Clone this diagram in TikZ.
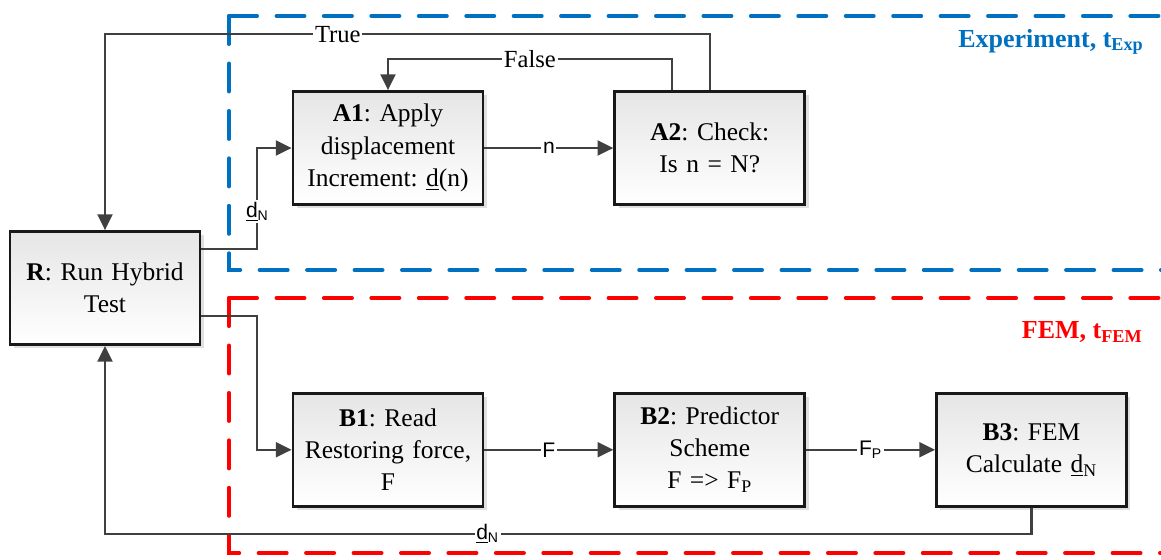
\documentclass[tikz,border=0pt]{standalone}
\usepackage{fontspec}
\setmainfont{Liberation Serif}
\setsansfont{Liberation Sans}
\usetikzlibrary{positioning,arrows.meta,shadows,calc}

\definecolor{lineGray}{HTML}{404040}
\definecolor{expBlue}{HTML}{0070C0}
\definecolor{femRed}{HTML}{FF0000}

\tikzstyle{block} = [rectangle, draw=black!90, line width=1.6pt, top color=black!10, bottom color=white,
    text width=3.6cm, align=center, minimum width=3.8cm, minimum height=2.26cm, inner sep=2pt,
    font=\fontsize{14.5}{18.3}\selectfont\frenchspacing,
    drop shadow={shadow xshift=2.2pt, shadow yshift=-2.2pt, fill=black!12, opacity=1}]
\tikzstyle{line} = [draw, line width=1.25pt, color=lineGray, -{Triangle[length=9pt, width=8.5pt]}]
\tikzstyle{lbl} = [fill=white, inner sep=1pt, text=black, font=\sffamily\fontsize{12}{14}\selectfont]
\tikzstyle{tlbl} = [fill=white, inner sep=1pt, text=black, font=\fontsize{14}{16}\selectfont]
\tikzstyle{region} = [line width=2.2pt, line cap=round, dash pattern=on 16pt off 11pt]
\tikzstyle{title} = [anchor=east, inner sep=0pt, font=\bfseries\fontsize{14.8}{17}\selectfont]

\begin{document}
\begin{tikzpicture}[x=0.02cm, y=-0.02cm, node distance=2.58cm]
	\useasboundingbox (0,0) rectangle (1161,559);

	% Regions
	\draw [region, expBlue] (229,16) -- (1175,16);
	\draw [region, expBlue] (229,16) -- (229,270) -- (1175,270);
	\draw [region, femRed] (229,298) -- (1175,298);
	\draw [region, femRed] (229,298) -- (229,553) -- (1175,553);
	\node [title, text=expBlue] (Exp) at (1144,42) {Experiment, t\textsubscript{Exp}};
	\node [title, text=femRed] (FEM) at (1143,332) {FEM, t\textsubscript{FEM}};

	% Nodes
	\node [block] (Run) at (105,288) {\textbf{R}: Run Hybrid\\ Test};
	\node [block] (Apply) at (388,148) {\textbf{A1}: Apply\\ displacement\\ Increment: \underline{d}(n)};
	\node [block, right=of Apply] (Check) {\textbf{A2}: Check:\\ Is n = N?};
	\node [block, below=3.72cm of Apply] (Read) {\textbf{B1}: Read\\ Restoring force,\\ F};
	\node [block, right=of Read] (Predict) {\textbf{B2}: Predictor\\ Scheme\\ F => F\textsubscript{P}};
	\node [block, right=of Predict] (Calc) {\textbf{B3}: FEM\\ Calculate \underline{d}\textsubscript{N}};

	% Arrows
	\path [line] ($(Run.north east)+(0,19)$) -- ++(56,0) coordinate (kA) -- node [lbl, pos=0.37] {\underline{d}\textsubscript{N}} (kA |- Apply.west) -- (Apply.west);
	\path [line] (Apply) -- node [lbl, pos=0.5] {n} (Check);
	\path [line] ($(Check.north)+(-38,0)$) -- ++(0,-31) coordinate (kF) -- node [tlbl, pos=0.5] {False} (kF -| Apply.north) -- (Apply.north);
	\path [line] (Check.north) -- ++(0,-56) coordinate (kT) -- node [tlbl, pos=0.615] {True} (kT -| Run.north) -- (Run.north);
	\path [line] ($(Run.south east)+(0,-30)$) -- ++(56,0) coordinate (kB) |- (Read.west);
	\path [line] (Read) -- node [lbl, pos=0.5] {F} (Predict);
	\path [line] (Predict) -- node [lbl, pos=0.5] {F\textsubscript{P}} (Calc);
	\path [line] (Calc.south) -- ++(0,26) coordinate (kD) -- node [lbl, pos=0.587] {\underline{d}\textsubscript{N}} (kD -| Run.south) -- (Run.south);

\end{tikzpicture}
\end{document}
